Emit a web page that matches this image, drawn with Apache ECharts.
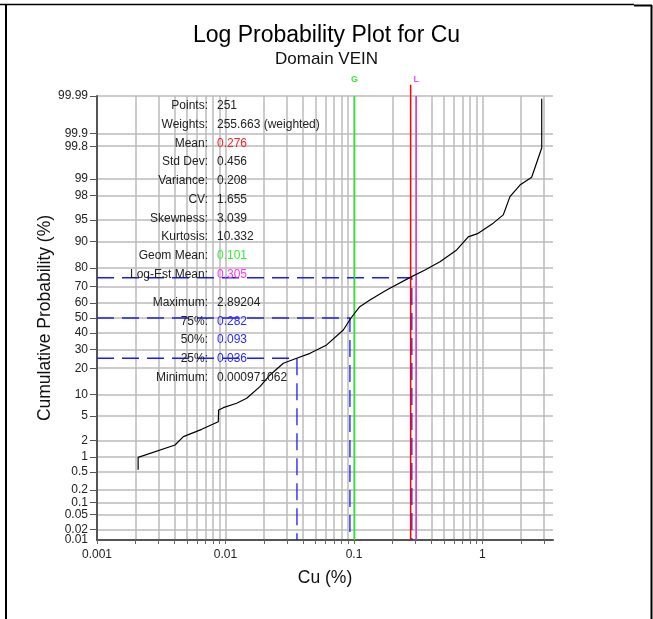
<!doctype html>
<html lang="en">
  <head>
    <meta charset="UTF-8" />
    <title>Log Probability Plot for Cu</title>
    <style>
      html, body { margin: 0; padding: 0; background: #fff; }
      #chart1 { width: 653px; height: 619px; }
    </style>
  </head>
  <body>
    <div id="chart1"></div>
    <script src="https://cdn.jsdelivr.net/npm/echarts@6.0.0/dist/echarts.min.js"></script>
    <script>
      // cumulative curve (Cu %, cumulative %)
      const cuValues = [0.00209, 0.00209, 0.00405, 0.0047, 0.00653, 0.00795, 0.00879, 0.00885, 0.00962, 0.01222,
        0.01462, 0.01855, 0.0222, 0.0282, 0.0358, 0.0455, 0.0613, 0.0826, 0.0948, 0.111, 0.133, 0.1795, 0.281,
        0.357, 0.467, 0.63, 0.775, 0.927, 1.213, 1.452, 1.637, 1.959, 2.415, 2.892, 2.892];
      const cumPct = [0.55, 0.98, 1.67, 2.34, 3.11, 3.75, 4.12, 6.17, 6.65, 7.65,
        8.93, 12.5, 17.0, 22.4, 25.0, 27.7, 32.6, 42.0, 50.0, 57.5, 61.9, 68.0, 75.6,
        78.9, 82.7, 87.3, 91.3, 92.2, 94.4, 95.8, 97.9, 98.7, 99.08, 99.78, 99.988];

      const probTicks = [0.01, 0.02, 0.05, 0.1, 0.2, 0.5, 1, 2, 5, 10, 20, 30, 40, 50, 60, 70, 80, 90, 95, 98, 99, 99.8, 99.9, 99.99];
      const decadeTicks = [0.001, 0.01, 0.1, 1];

      const statLabels = ["Points:", "Weights:", "Mean:", "Std Dev:", "Variance:", "CV:", "Skewness:", "Kurtosis:", "Geom Mean:", "Log-Est Mean:"];
      const statValues = ["251", "255.663 (weighted)", "0.276", "0.456", "0.208", "1.655", "3.039", "10.332", "0.101", "0.305"];
      const quantLabels = ["Maximum:", "75%:", "50%:", "25%:", "Minimum:"];
      const quantValues = ["2.89204", "0.282", "0.093", "0.036", "0.000971062"];

      const meanVal = 0.276;
      const geomMean = 0.101;
      const logEstMean = 0.305;
      const quartiles = [{ p: 75, v: 0.282 }, { p: 50, v: 0.093 }, { p: 25, v: 0.036 }];

      // inverse normal (Acklam) -> probability axis
      function probit(pct) {
        const p = pct / 100;
        const a = [-39.69683028665376, 220.9460984245205, -275.9285104469687, 138.357751867269, -30.66479806614716, 2.506628277459239];
        const b = [-54.47609879822406, 161.5858368580409, -155.6989798598866, 66.80131188771972, -13.28068155288572];
        const c = [-0.007784894002430293, -0.3223964580411365, -2.400758277161838, -2.549732539343734, 4.374664141464968, 2.938163982698783];
        const d = [0.007784695709041462, 0.3224671290700398, 2.445134137142996, 3.754408661907416];
        const lo = 0.02425, hi = 1 - lo;
        let q, r;
        if (p < lo) {
          q = Math.sqrt(-2 * Math.log(p));
          return (((((c[0] * q + c[1]) * q + c[2]) * q + c[3]) * q + c[4]) * q + c[5]) / ((((d[0] * q + d[1]) * q + d[2]) * q + d[3]) * q + 1);
        }
        if (p > hi) {
          q = Math.sqrt(-2 * Math.log(1 - p));
          return -(((((c[0] * q + c[1]) * q + c[2]) * q + c[3]) * q + c[4]) * q + c[5]) / ((((d[0] * q + d[1]) * q + d[2]) * q + d[3]) * q + 1);
        }
        q = p - 0.5;
        r = q * q;
        return (((((a[0] * r + a[1]) * r + a[2]) * r + a[3]) * r + a[4]) * r + a[5]) * q / (((((b[0] * r + b[1]) * r + b[2]) * r + b[3]) * r + b[4]) * r + 1);
      }
      const lg = Math.log10;

      const zTicks = probTicks.map(probit);
      const zMin = zTicks[0] - 1e-9;
      const zMax = zTicks[zTicks.length - 1] + 1e-9;
      const xMin = -3;
      const xMax = lg(3.54);
      // the bottom label is listed twice: the min-label overlap check then drops the copy and keeps "0.02"
      const zLabelValues = [zTicks[0]].concat(zTicks);

      const minorTicks = [];
      for (let e = -3; e <= 0; e++) {
        for (let k = 1; k <= 9; k++) {
          const v = k * Math.pow(10, e);
          if (v <= 3.01) minorTicks.push(lg(v));
        }
      }

      const curve = cuValues.map((v, i) => [lg(v), probit(cumPct[i])]);

      const font = "Liberation Sans, Arial, sans-serif";
      const series = [
        {
          name: "Cu",
          type: "line",
          data: curve,
          symbol: "none",
          lineStyle: { color: "#000", width: 1.2 },
          z: 5,
        },
        {
          name: "Mean",
          type: "line",
          data: [[lg(meanVal), zMax + 0.19], [lg(meanVal), zMin]],
          symbol: "none",
          clip: false,
          lineStyle: { color: "#ff0000", width: 1.5 },
          z: 4,
        },
        {
          name: "Geom Mean",
          type: "line",
          data: [
            { value: [lg(geomMean), zMax], label: { show: true, formatter: "G", position: "top", distance: 12, color: "#33ee33", fontSize: 9, fontWeight: "bold", fontFamily: font } },
            [lg(geomMean), zMin],
          ],
          symbol: "circle",
          symbolSize: 0.1,
          lineStyle: { color: "#22ee22", width: 1.5 },
          z: 4,
        },
        {
          name: "Log-Est Mean",
          type: "line",
          data: [
            { value: [lg(logEstMean), zMax], label: { show: true, formatter: "L", position: "top", distance: 12, color: "#ff44ff", fontSize: 9, fontWeight: "bold", fontFamily: font } },
            [lg(logEstMean), zMin],
          ],
          symbol: "circle",
          symbolSize: 0.1,
          lineStyle: { color: "#dd33dd", width: 1.5 },
          z: 4,
        },
      ];
      quartiles.forEach((q) => {
        series.push({
          name: q.p + "%",
          type: "line",
          data: [[xMin, probit(q.p)], [lg(q.v), probit(q.p)], [lg(q.v), zMin]],
          symbol: "none",
          lineStyle: { color: "#1a1aff", width: 1.3, type: [17, 8] },
          z: 3,
        });
      });

      // statistics block
      const graphics = [];
      const rowH = 18.75;
      const textTop = 105.7;
      statLabels.forEach((s, i) => {
        graphics.push({ type: "text", x: 208, y: textTop + i * rowH, style: { text: s, font: "12px " + font, fill: "#222", align: "right", verticalAlign: "middle" }, z: 10 });
      });
      const statColors = { "Mean:": "#ff2020", "Geom Mean:": "#33ee33", "Log-Est Mean:": "#ff33ff" };
      statValues.forEach((s, i) => {
        graphics.push({ type: "text", x: 217, y: textTop + i * rowH, style: { text: s, font: "12px " + font, fill: statColors[statLabels[i]] || "#222", align: "left", verticalAlign: "middle" }, z: 10 });
      });
      quantLabels.forEach((s, i) => {
        const y = textTop + (statLabels.length + 0.5 + i) * rowH;
        const col = i > 0 && i < 4 ? "#2a2aff" : "#222";
        graphics.push({ type: "text", x: 208, y: y, style: { text: s, font: "12px " + font, fill: "#222", align: "right", verticalAlign: "middle" }, z: 10 });
        graphics.push({ type: "text", x: 217, y: y, style: { text: quantValues[i], font: "12px " + font, fill: col, align: "left", verticalAlign: "middle" }, z: 10 });
      });

      // page frame
      const frame = { stroke: "#000", lineWidth: 2 };
      graphics.push({ type: "line", shape: { x1: 6, y1: 4, x2: 6, y2: 619 }, style: frame });
      graphics.push({ type: "line", shape: { x1: 0, y1: 4.5, x2: 634, y2: 4.5 }, style: { stroke: "#000", lineWidth: 1.5 } });
      graphics.push({ type: "line", shape: { x1: 634, y1: 5.5, x2: 652, y2: 5.5 }, style: frame });
      graphics.push({ type: "line", shape: { x1: 651.5, y1: 5, x2: 651.5, y2: 619 }, style: frame });

      const myChart = echarts.init(document.querySelector("#chart1"));

      const option = {
        backgroundColor: "#fff",
        animation: false,
        title: {
          text: "Log Probability Plot for Cu",
          subtext: "Domain VEIN",
          left: "center",
          top: 19,
          itemGap: 4,
          textStyle: { fontFamily: font, fontSize: 23, fontWeight: "normal", color: "#000" },
          subtextStyle: { fontFamily: font, fontSize: 17, color: "#111" },
        },
        grid: { left: 97, right: 653 - 553, top: 96, bottom: 619 - 540, containLabel: false },
        xAxis: {
          type: "value",
          min: xMin,
          max: xMax,
          name: "Cu (%)",
          nameLocation: "middle",
          nameGap: 29,
          nameMoveOverlap: false,
          nameTextStyle: { fontFamily: font, fontSize: 17.5, color: "#111" },
          axisLine: { show: true, onZero: false, lineStyle: { color: "#555", width: 2 } },
          axisTick: { show: true, customValues: minorTicks, length: 4, lineStyle: { color: "#666" } },
          axisLabel: {
            customValues: decadeTicks.map(lg),
            formatter: (v) => String(decadeTicks[decadeTicks.map(lg).findIndex((t) => Math.abs(t - v) < 1e-6)]),
            showMinLabel: true,
            showMaxLabel: true,
            fontFamily: font,
            fontSize: 12,
            color: "#222",
            margin: 9,
          },
          splitLine: { show: true, lineStyle: { color: "#bbb", width: 1.5 } },
        },
        yAxis: {
          type: "value",
          min: zMin,
          max: zMax,
          name: "Cumulative Probability (%)",
          nameLocation: "middle",
          nameGap: 43,
          nameMoveOverlap: false,
          nameTextStyle: { fontFamily: font, fontSize: 17.5, color: "#111" },
          axisLine: { show: true, onZero: false, lineStyle: { color: "#555", width: 2 } },
          axisTick: { show: true, customValues: zTicks, length: 7, lineStyle: { color: "#555" } },
          axisLabel: {
            customValues: zLabelValues,
            formatter: (v) => String(probTicks[zTicks.findIndex((t) => Math.abs(t - v) < 1e-6)]),
            showMinLabel: true,
            showMaxLabel: true,
            hideOverlap: false,
            fontFamily: font,
            fontSize: 12,
            color: "#222",
            margin: 9,
          },
          splitLine: { show: true, lineStyle: { color: "#bbb", width: 1.5 } },
        },
        graphic: graphics,
        series: series,
      };

      myChart.setOption(option);
    </script>
  </body>
</html>
